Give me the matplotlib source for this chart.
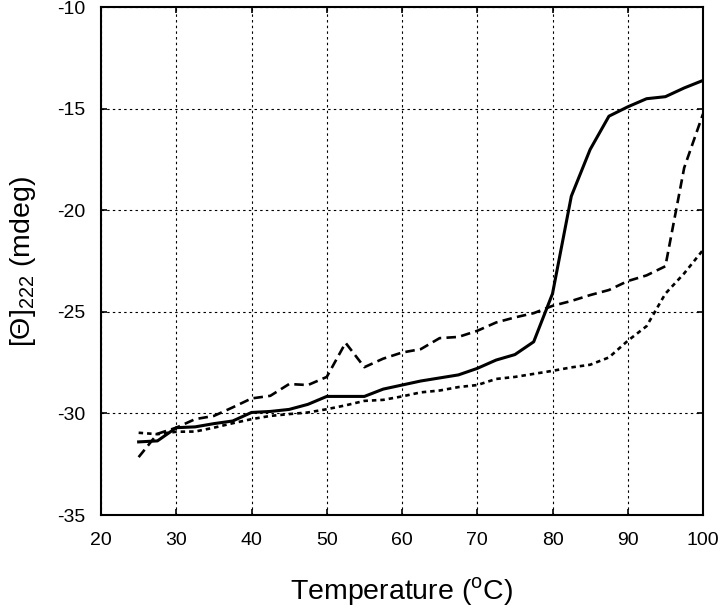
import matplotlib
matplotlib.use('Agg')
from matplotlib import pyplot as plt

plt.rcParams['font.family'] = ['Liberation Sans', 'DejaVu Sans']
plt.rcParams['mathtext.fontset'] = 'custom'
plt.rcParams['mathtext.rm'] = 'Liberation Sans'
plt.rcParams['axes.unicode_minus'] = False

temperature = [25, 27.5, 30, 32.5, 35, 37.5, 40, 42.5, 45, 47.5, 50,
               52.5, 55, 57.5, 60, 62.5, 65, 67.5, 70, 72.5, 75,
               77.5, 80, 82.5, 85, 87.5, 90, 92.5, 95, 97.5, 100]

theta_solid = [-31.4, -31.35, -30.7, -30.66, -30.5, -30.37, -29.95, -29.9, -29.8, -29.55, -29.16,
               -29.16, -29.16, -28.8, -28.6, -28.4, -28.25, -28.1, -27.78, -27.37, -27.1,
               -26.47, -24.1, -19.3, -17.0, -15.36, -14.9, -14.5, -14.4, -13.97, -13.6]

theta_dashed = [-32.15, -31.0, -30.7, -30.28, -30.12, -29.7, -29.26, -29.13, -28.55, -28.6, -28.2,
                -26.52, -27.72, -27.3, -27.0, -26.83, -26.29, -26.23, -25.93, -25.52, -25.27,
                -25.06, -24.7, -24.46, -24.17, -23.92, -23.48, -23.2, -22.75, -17.9, -15.25]

theta_dotted = [-30.95, -31.02, -30.9, -30.89, -30.7, -30.48, -30.28, -30.12, -30.03, -29.95, -29.79,
                -29.6, -29.38, -29.33, -29.16, -28.96, -28.87, -28.7, -28.6, -28.3, -28.2,
                -28.05, -27.9, -27.73, -27.6, -27.24, -26.42, -25.7, -24.1, -23.1, -21.95]

x_ticks = [20, 30, 40, 50, 60, 70, 80, 90, 100]
y_ticks = [-35, -30, -25, -20, -15, -10]

fig = plt.figure(figsize=(7.2, 6.11), dpi=100)
ax = fig.add_axes([0.1403, 0.1571, 0.8361, 0.8309])

ax.plot(temperature, theta_solid, color='black', linewidth=2.2, linestyle='-')
ax.plot(temperature, theta_dashed, color='black', linewidth=1.9, linestyle=(0, (3.6, 2.0)))
ax.plot(temperature, theta_dotted, color='black', linewidth=1.9, linestyle=(0, (1.7, 1.5)))

ax.set_xlim(20, 100)
ax.set_ylim(-35, -10)
ax.set_xticks(x_ticks)
ax.set_yticks(y_ticks)
ax.set_xticklabels([str(t) for t in x_ticks])
ax.set_yticklabels([str(t) for t in y_ticks])

ax.grid(True, color='black', linewidth=0.8, linestyle=(0, (2.2, 2.9)))
ax.tick_params(direction='in', length=4, width=1.2, top=True, right=True,
               labelsize=14, colors='black')
ax.tick_params(axis='x', pad=12)
ax.tick_params(axis='y', pad=11)
for spine in ax.spines.values():
    spine.set_linewidth(1.5)

ax.set_xlabel('Temperature ($^{\\mathregular{o}}$C)', fontsize=20.5, labelpad=19)
ax.set_ylabel('[Θ]$_{\\mathregular{222}}$ (mdeg)', fontsize=20.5, labelpad=14)

fig.savefig('out.png', dpi=100)
